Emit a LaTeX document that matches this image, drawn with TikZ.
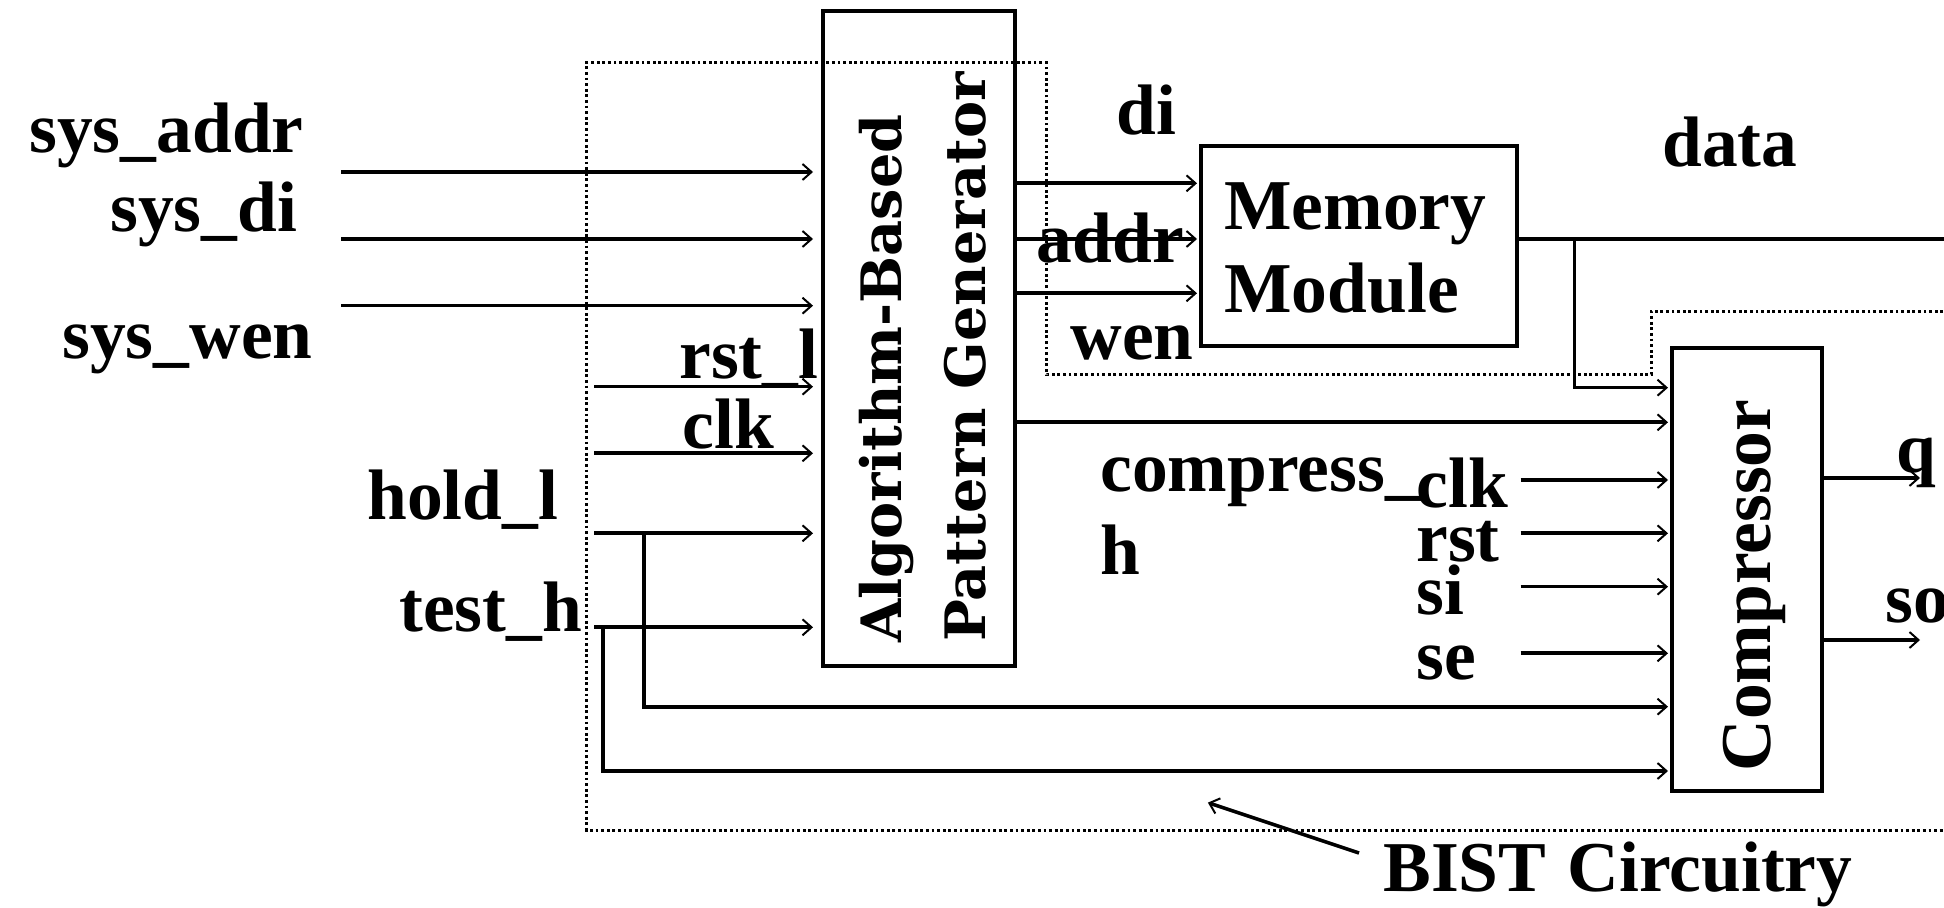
\documentclass[tikz,border=0pt]{standalone}
\usepackage{fontspec}
\setmainfont{Liberation Serif}
\newfontfamily\genfont{DejaVu Serif}
\usetikzlibrary{arrows.meta}

\begin{document}
\begin{tikzpicture}[x=0.5pt,y=-0.5pt,
  wire/.style={line width=1.8pt},
  sig/.style={wire,shorten >=1pt,-{Straight Barb[length=4.5pt,width=8pt,line width=1pt]}},
  blk/.style={draw,line width=2pt,inner sep=0pt},
  lbl/.style={anchor=base west,inner sep=0pt,font=\fontsize{35.75}{42}\selectfont\bfseries},
  gentxt/.style={anchor=base west,inner sep=0pt,rotate=90,font=\genfont\fontsize{27.85}{40}\selectfont\bfseries},
  bist/.style={line width=1.5pt,dash pattern=on 1.4pt off 1.4pt}
]
\useasboundingbox (0,0) rectangle (1944,908);
\clip (0,0) rectangle (1944,908);

% blocks
\node[blk,minimum width=95.75pt,minimum height=327.35pt] (gen) at (918.75,338.35) {};
\node[blk,minimum width=158pt,minimum height=100pt] (mem) at (1359,245.7) {};
\node[blk,minimum width=75pt,minimum height=221.5pt] (cmp) at (1747,569.2) {};

% block titles
\node[gentxt] (genA) at (901.7,643) {Algorithm-Based};
\node[gentxt] (genB) at (985,642) {Pattern Generator};
\node[lbl] (memA) at (1224,230) {Memory};
\node[lbl] (memB) at (1224,313) {Module};
\node[lbl,rotate=90] (cmpT) at (1770,772) {Compressor};

% BIST boundary
\draw[bist] (1960,311.7) -- (1651,311.7) -- (1651,375) -- (1046.5,375)
  -- (1046.5,62.7) -- (586.5,62.7) -- (586.5,830) -- (1960,830);

% signal labels
\node[lbl] (Lsa) at (29,153) {sys\_addr};
\node[lbl] (Lsd) at (110,232) {sys\_di};
\node[lbl] (Lsw) at (62,359) {sys\_wen};
\node[lbl] (Lrl) at (679,379) {rst\_l};
\node[lbl] (Lck) at (682,449) {clk};
\node[lbl] (Lhl) at (367,520) {hold\_l};
\node[lbl] (Lth) at (399,632) {test\_h};
\node[lbl] (Ldi) at (1116,135) {di};
\node[lbl] (Lad) at (1036.5,263) {addr};
\node[lbl] (Lwe) at (1070,360) {wen};
\node[lbl] (Lda) at (1662,166.7) {data};
\node[lbl] (Lc1) at (1100,491.7) {compress\_};
\node[lbl] (Lc2) at (1100,575) {h};
\node[lbl] (Lk1) at (1416,508) {clk};
\node[lbl] (Lk2) at (1416,561.7) {rst};
\node[lbl] (Lk3) at (1416,615) {si};
\node[lbl] (Lk4) at (1416,680) {se};
\node[lbl] (Lq) at (1896,473) {q};
\node[lbl] (Lso) at (1885,623) {so};
\node[lbl] (Lbist) at (1383,891) {BIST\hspace{0.3em}Circuitry};

% input ends
\coordinate (a1) at (341,172);
\coordinate (a2) at (341,239);
\coordinate (a3) at (341,305.7);
\coordinate (r1) at (594,386.7);
\coordinate (c1) at (594,453.3);
\coordinate (h1) at (594,533.3);
\coordinate (t1) at (594,627.3);
\coordinate (hb) at (644,533.3);
\coordinate (hdn) at (644,706.7);
\coordinate (tb) at (602.7,627.3);
\coordinate (tdn) at (602.7,771);

\foreach \p in {a1,a2,a3,r1,c1,h1,t1}
  \draw[sig,shorten >=4pt] (\p) -- (\p -| gen.west);
\draw[sig] (hb) -- (hdn) -- (hdn -| cmp.west);
\draw[sig] (tb) -- (tdn) -- (tdn -| cmp.west);

% generator to memory and compressor
\coordinate (ydi) at (0,183.3);
\coordinate (yad) at (0,239);
\coordinate (ywe) at (0,293.3);
\coordinate (ygo) at (0,422.3);
\foreach \p in {ydi,yad,ywe}
  \draw[sig] (gen.east |- \p) -- (mem.west |- \p);
\draw[sig] (gen.east |- ygo) -- (cmp.west |- ygo);

% memory data out
\coordinate (dout) at (1960,239);
\coordinate (db) at (1574.5,239);
\coordinate (ddn) at (1574.5,387.7);
\draw[wire] (mem.east |- dout) -- (dout);
\draw[sig] (db) -- (ddn) -- (ddn -| cmp.west);

% compressor control inputs
\coordinate (k1) at (1520.5,480);
\coordinate (k2) at (1520.5,533.3);
\coordinate (k3) at (1520.5,586.7);
\coordinate (k4) at (1520.5,653.3);
\foreach \p in {k1,k2,k3,k4}
  \draw[sig] (\p) -- (\p -| cmp.west);

% compressor outputs
\coordinate (qend) at (1922,478);
\coordinate (soend) at (1922,640);
\draw[sig] (cmp.east |- qend) -- (qend);
\draw[sig] (cmp.east |- soend) -- (soend);

% pointer to the BIST boundary
\coordinate (bt) at (1359,853);
\coordinate (bh) at (1206,802);
\draw[sig] (bt) -- (bh);
\end{tikzpicture}
\end{document}
